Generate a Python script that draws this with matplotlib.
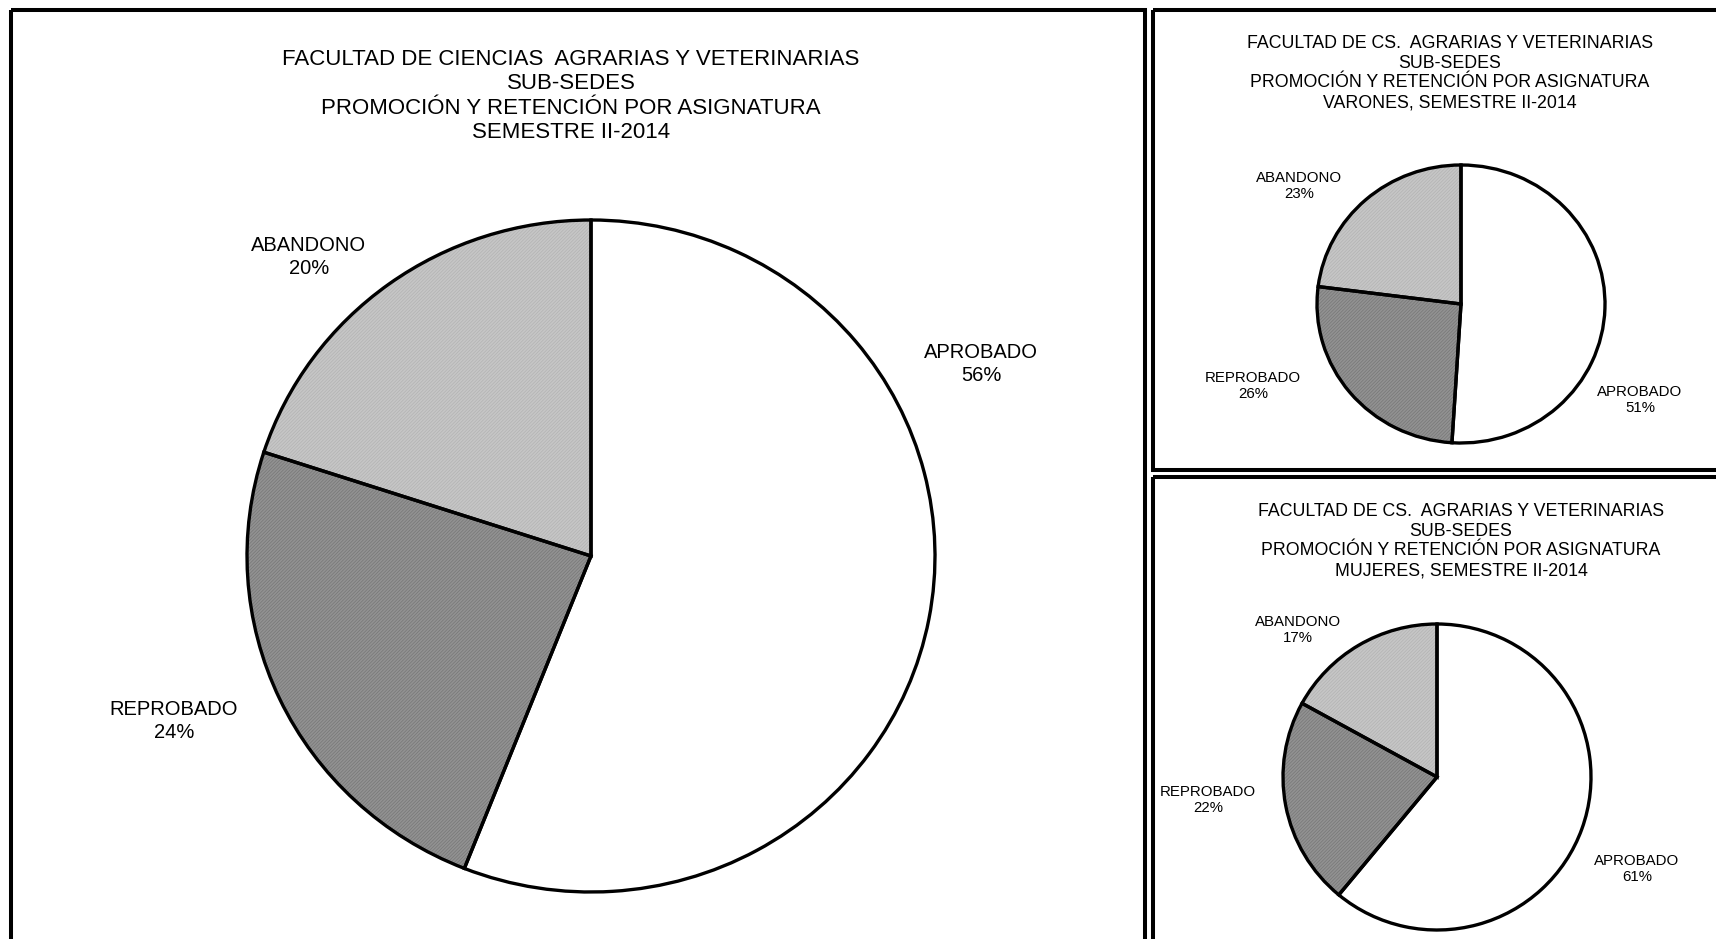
import matplotlib
matplotlib.use("Agg")
import matplotlib.pyplot as plt
from matplotlib.patches import Rectangle

plt.rcParams['font.family'] = ['Liberation Sans', 'DejaVu Sans']
plt.rcParams['hatch.linewidth'] = 0.5

# ---------------- data ----------------
categories = ["APROBADO", "REPROBADO", "ABANDONO"]
total_pct = [56, 24, 20]
varones_pct = [51, 26, 23]
mujeres_pct = [61, 22, 17]

title_total = ["FACULTAD DE CIENCIAS  AGRARIAS Y VETERINARIAS", "SUB-SEDES",
               "PROMOCIÓN Y RETENCIÓN POR ASIGNATURA", "SEMESTRE II-2014"]
title_varones = ["FACULTAD DE CS.  AGRARIAS Y VETERINARIAS", "SUB-SEDES",
                 "PROMOCIÓN Y RETENCIÓN POR ASIGNATURA", "VARONES, SEMESTRE II-2014"]
title_mujeres = ["FACULTAD DE CS.  AGRARIAS Y VETERINARIAS", "SUB-SEDES",
                 "PROMOCIÓN Y RETENCIÓN POR ASIGNATURA", "MUJERES, SEMESTRE II-2014"]

# ---------------- style ----------------
face_colors = ["#ffffff", "#929292", "#c6c6c6"]
hatch_colors = ["#ffffff", "#777777", "#b2b2b2"]
hatches = [None, "//////////", "//////////"]

W, H = 1716, 939
fig = plt.figure(figsize=(W / 100, H / 100), dpi=100)
fig.patch.set_facecolor("white")

# overlay axes in pixel coordinates
ov = fig.add_axes([0, 0, 1, 1])
ov.set_xlim(0, W)
ov.set_ylim(H, 0)
ov.axis("off")
ov.set_zorder(5)
ov.patch.set_alpha(0)

# panel frames
frame_lw = 2.9
ov.add_patch(Rectangle((11, 10), 1145 - 11, 980, fill=False, lw=frame_lw,
                       ec="black", clip_on=False))
ov.add_patch(Rectangle((1153, 10), 620, 470 - 10, fill=False, lw=frame_lw,
                       ec="black", clip_on=False))
ov.add_patch(Rectangle((1153, 477), 620, 600, fill=False, lw=frame_lw,
                       ec="black", clip_on=False))


def draw_pie(values, cx, cy, rx, ry, label_pos, fs, lls, title, tpos, tfs, tls):
    ax = fig.add_axes([(cx - rx) / W, 1 - (cy + ry) / H, 2 * rx / W, 2 * ry / H])
    wedges, _ = ax.pie(values, startangle=90, counterclock=False, radius=1,
                       colors=face_colors, wedgeprops=dict(linewidth=0))
    for w, h, hc in zip(wedges, hatches, hatch_colors):
        if h:
            w.set_hatch(h)
            w.set_edgecolor(hc)
    ax.pie(values, startangle=90, counterclock=False, radius=1,
           colors=["none"] * len(values),
           wedgeprops=dict(linewidth=2.4, edgecolor="black", facecolor="none"))
    ax.set_xlim(-1, 1)
    ax.set_ylim(-1, 1)
    ax.set_aspect("auto")
    ax.axis("off")
    for cat, v, (lx, ly) in zip(categories, values, label_pos):
        ov.text(lx, ly, f"{cat}\n{v}%", ha="center", va="center",
                fontsize=fs, linespacing=lls)
    ov.text(tpos[0], tpos[1], "\n".join(title), ha="center", va="center",
            fontsize=tfs, linespacing=tls)


draw_pie(total_pct, 591, 556, 344, 336,
         [(981, 364), (174, 721), (309, 257)], 14.5, 1.22,
         title_total, (571, 96), 16, 1.22)
draw_pie(varones_pct, 1461, 304, 144, 139,
         [(1640, 400), (1253, 386), (1299, 186)], 10.8, 1.2,
         title_varones, (1450, 73), 12.8, 1.22)
draw_pie(mujeres_pct, 1437, 777, 154, 153,
         [(1637, 869), (1208, 800), (1298, 630)], 10.8, 1.2,
         title_mujeres, (1461, 541), 12.8, 1.22)

fig.savefig("out.png", dpi=100, facecolor="white")
